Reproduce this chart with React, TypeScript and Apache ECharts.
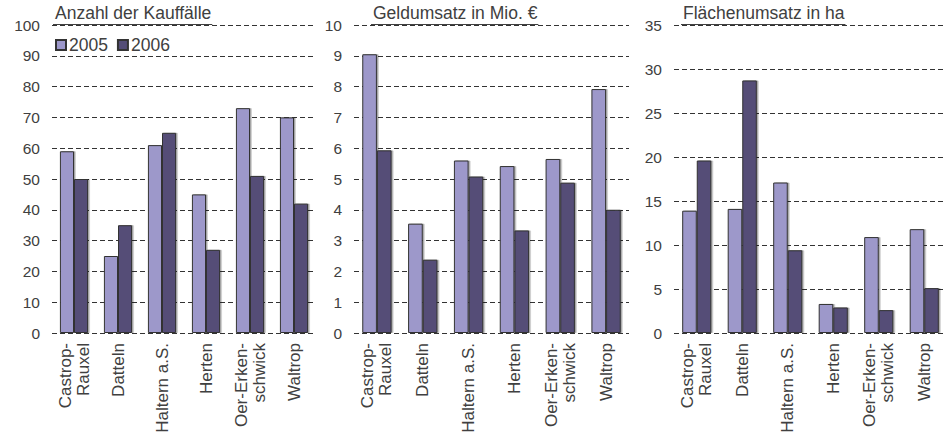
import React, { useEffect, useRef } from "react";
import * as echarts from "echarts";

const categories = ["Castrop-\nRauxel", "Datteln", "Haltern a.S.", "Herten", "Oer-Erken-\nschwick", "Waltrop"];
const seriesNames = ["2005", "2006"];
const kauf2005 = [59, 25, 61, 45, 73, 70];
const kauf2006 = [50, 35, 65, 27, 51, 42];
const geld2005 = [9.05, 3.55, 5.6, 5.42, 5.65, 7.92];
const geld2006 = [5.93, 2.38, 5.08, 3.33, 4.88, 4.0];
const flaeche2005 = [13.9, 14.1, 17.1, 3.3, 10.9, 11.8];
const flaeche2006 = [19.6, 28.7, 9.4, 2.9, 2.6, 5.1];
const titles = ["Anzahl der Kauffälle", "Geldumsatz in Mio. €", "Flächenumsatz in ha"];
const yMax = [100, 10, 35];
const yInterval = [10, 1, 5];

const FONT = "'Liberation Sans', Arial, sans-serif";
const TEXT = "#404040";
const C2005 = "#9d98ca";
const C2006 = "#544d77";

const grids = [
  { left: 52, top: 25, width: 264, height: 308 },
  { left: 354, top: 25, width: 275, height: 308 },
  { left: 674, top: 25, width: 273, height: 308 },
];
const titleLeft = [55, 373, 683];

function measure(text: string, size: number) {
  const c = document.createElement("canvas").getContext("2d");
  if (!c) return text.length * size * 0.5;
  c.font = `${size}px 'Liberation Sans', Arial, sans-serif`;
  return c.measureText(text).width;
}

export default function App() {
  const ref = useRef<HTMLDivElement>(null);
  useEffect(() => {
    if (!ref.current) return;
    const chart = echarts.init(ref.current, undefined, { renderer: "svg" });
    const data = [
      [kauf2005, kauf2006],
      [geld2005, geld2006],
      [flaeche2005, flaeche2006],
    ];
    const series: any[] = [];
    data.forEach((pair, gi) => {
      pair.forEach((vals, si) => {
        series.push({
          type: "bar",
          name: seriesNames[si],
          xAxisIndex: gi,
          yAxisIndex: gi,
          data: vals,
          barGap: "0%",
          barCategoryGap: "36%",
          itemStyle: {
            color: si === 0 ? C2005 : C2006,
            borderColor: "#333",
            borderWidth: 1,
            shadowColor: "rgba(0,0,0,0.35)",
            shadowOffsetX: 1.5,
            shadowOffsetY: 0,
            shadowBlur: 0,
          },
        });
      });
    });
    const titleSize = 17.5;
    const graphic: any[] = titles.map((t, i) => {
      const w = measure(t, titleSize);
      return {
        type: "line",
        shape: { x1: titleLeft[i] - 2, y1: 24.5, x2: titleLeft[i] + w + 1, y2: 24.5 },
        style: { stroke: TEXT, lineWidth: 1 },
        z: 10,
      };
    });
    chart.setOption({
      animation: false,
      backgroundColor: "#fff",
      title: titles.map((t, i) => ({
        text: t,
        left: titleLeft[i],
        top: 4,
        padding: 0,
        textStyle: { fontFamily: FONT, fontSize: titleSize, fontWeight: "normal", color: TEXT },
      })),
      legend: {
        data: seriesNames,
        left: 55,
        top: 36,
        padding: 0,
        itemWidth: 10,
        itemHeight: 10,
        itemGap: 9,
        icon: "rect",
        textStyle: { fontFamily: FONT, fontSize: 17.5, color: TEXT, padding: [0, 0, 0, -2] },
      },
      grid: grids.map((g) => ({ ...g, containLabel: false, outerBoundsMode: "none" })),
      xAxis: grids.map((_, i) => ({
        type: "category",
        gridIndex: i,
        data: categories,
        axisLine: { show: false },
        axisTick: { show: false },
        axisLabel: {
          rotate: 90,
          margin: 10,
          interval: 0,
          fontFamily: FONT,
          fontSize: 17,
          lineHeight: 18,
          color: TEXT,
        },
      })),
      yAxis: grids.map((_, i) => ({
        type: "value",
        gridIndex: i,
        min: 0,
        max: yMax[i],
        interval: yInterval[i],
        axisLine: { show: false },
        axisTick: { show: false },
        axisLabel: { margin: 12, fontFamily: FONT, fontSize: 15.5, color: TEXT, padding: [5, 0, 0, 0] },
        splitLine: { show: true, lineStyle: { color: "#333", width: 1, type: [5, 3] } },
      })),
      series,
      graphic,
    });
    return () => chart.dispose();
  }, []);
  return (
    <div
      ref={ref}
      style={{ position: "fixed", left: 0, top: 0, width: 943, height: 433, background: "#fff" }}
    />
  );
}
